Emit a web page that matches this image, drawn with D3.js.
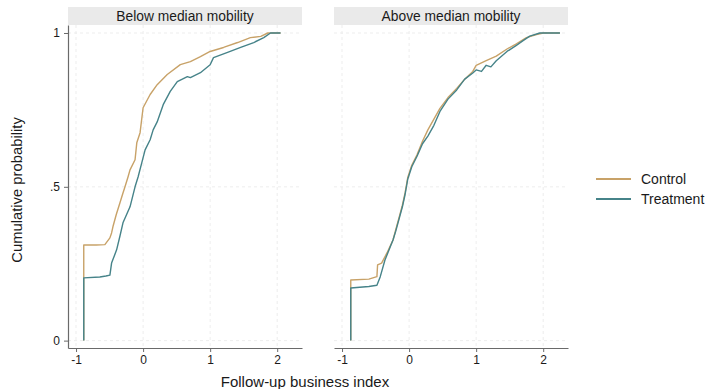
<!DOCTYPE html>
<html>
<head>
<meta charset="utf-8">
<script src="https://cdn.jsdelivr.net/npm/d3@7"></script>
<style>
  html, body { margin: 0; padding: 0; background: #fff; }
  svg { display: block; font-family: "Liberation Sans", Arial, Helvetica, sans-serif; }
</style>
</head>
<body>
<svg id="chart" width="715" height="389"></svg>
<script>
// Panels and series
const panels = ["Below median mobility", "Above median mobility"];
const seriesNames = ["Control", "Treatment"];
const seriesColors = ["#c8a268", "#468389"];

// Empirical CDF points [business index, cumulative probability]
const belowControl = [
  [-0.885, 0], [-0.885, 0.311], [-0.70, 0.311], [-0.57, 0.312], [-0.495, 0.334],
  [-0.47, 0.35], [-0.45, 0.37], [-0.40, 0.41], [-0.345, 0.448], [-0.30, 0.48],
  [-0.27, 0.50], [-0.225, 0.532], [-0.195, 0.555], [-0.12, 0.588], [-0.094, 0.643],
  [-0.045, 0.676], [0.0, 0.757], [0.105, 0.80], [0.21, 0.832], [0.36, 0.865],
  [0.555, 0.897], [0.705, 0.907], [0.855, 0.923], [1.0, 0.94], [1.2, 0.953],
  [1.41, 0.969], [1.6, 0.985], [1.755, 0.989], [1.86, 1.0], [2.05, 1.0]
];
const belowTreatment = [
  [-0.885, 0], [-0.885, 0.204], [-0.645, 0.207], [-0.555, 0.21], [-0.495, 0.213],
  [-0.47, 0.252], [-0.395, 0.295], [-0.345, 0.34], [-0.30, 0.383], [-0.195, 0.435],
  [-0.12, 0.50], [-0.075, 0.532], [-0.02, 0.578], [0.03, 0.62], [0.105, 0.653],
  [0.15, 0.685], [0.21, 0.711], [0.30, 0.767], [0.405, 0.81], [0.51, 0.842],
  [0.66, 0.858], [0.705, 0.855], [0.855, 0.871], [1.0, 0.897], [1.05, 0.92],
  [1.26, 0.937], [1.455, 0.953], [1.65, 0.969], [1.8, 0.985], [1.9, 1.0], [2.05, 1.0]
];
const aboveControl = [
  [-0.87, 0], [-0.87, 0.197], [-0.6, 0.20], [-0.48, 0.208], [-0.47, 0.246],
  [-0.41, 0.252], [-0.33, 0.285], [-0.24, 0.327], [-0.2, 0.36], [-0.15, 0.40],
  [-0.1, 0.44], [-0.06, 0.48], [-0.02, 0.53], [0.04, 0.57], [0.12, 0.605],
  [0.2, 0.648], [0.28, 0.685], [0.37, 0.72], [0.46, 0.755], [0.58, 0.79],
  [0.71, 0.82], [0.83, 0.85], [0.95, 0.875], [1.0, 0.895], [1.15, 0.91],
  [1.3, 0.925], [1.46, 0.948], [1.6, 0.965], [1.75, 0.985], [1.9, 0.995],
  [2.0, 1.0], [2.25, 1.0]
];
const aboveTreatment = [
  [-0.87, 0], [-0.87, 0.171], [-0.6, 0.176], [-0.48, 0.18], [-0.43, 0.208],
  [-0.36, 0.262], [-0.24, 0.327], [-0.2, 0.355], [-0.15, 0.395], [-0.1, 0.435],
  [-0.06, 0.475], [-0.02, 0.525], [0.04, 0.565], [0.12, 0.60], [0.2, 0.64],
  [0.28, 0.665], [0.37, 0.70], [0.46, 0.745], [0.58, 0.785], [0.71, 0.815],
  [0.83, 0.85], [0.95, 0.87], [1.0, 0.88], [1.08, 0.875], [1.15, 0.895],
  [1.22, 0.89], [1.3, 0.91], [1.46, 0.94], [1.6, 0.96], [1.7, 0.975],
  [1.8, 0.99], [1.95, 1.0], [2.25, 1.0]
];

const xTicks = [-1, 0, 1, 2];
const xTickLabels = ["-1", "0", "1", "2"];
const yTicks = [0, 0.5, 1];
const yTickLabels = ["0", ".5", "1"];

const panelData = [
  [belowControl, belowTreatment],
  [aboveControl, aboveTreatment]
];

const svg = d3.select("#chart");
const axisColor = "#6a6a6a";
const textColor = "#1a1a1a";
const panelLeft = [68, 334];
const panelWidth = 234;
const plotTop = 25, plotBottom = 348;

const y = d3.scaleLinear().domain([-0.024, 1.026]).range([plotBottom, plotTop]);

panels.forEach((title, i) => {
  const x = d3.scaleLinear().domain([-1.12, 2.37]).range([panelLeft[i], panelLeft[i] + panelWidth]);
  const g = svg.append("g");

  // Strip header
  g.append("rect")
    .attr("x", panelLeft[i]).attr("y", 7)
    .attr("width", panelWidth).attr("height", plotTop - 7)
    .attr("fill", "#eaeaea");
  g.append("text")
    .attr("x", panelLeft[i] + panelWidth / 2).attr("y", 21)
    .attr("text-anchor", "middle")
    .attr("font-size", 13.8).attr("fill", textColor)
    .text(title);

  // Grid
  g.append("g").selectAll("line").data(xTicks).join("line")
    .attr("x1", d => x(d)).attr("x2", d => x(d))
    .attr("y1", plotTop).attr("y2", plotBottom)
    .attr("stroke", "#e9e9e9").attr("stroke-width", 0.8)
    .attr("stroke-dasharray", "3,3");
  g.append("g").selectAll("line").data(yTicks).join("line")
    .attr("x1", panelLeft[i]).attr("x2", panelLeft[i] + panelWidth)
    .attr("y1", d => y(d)).attr("y2", d => y(d))
    .attr("stroke", "#e9e9e9").attr("stroke-width", 0.8)
    .attr("stroke-dasharray", "3,3");

  // CDF curves
  const line = d3.line().x(d => x(d[0])).y(d => y(d[1]));
  panelData[i].forEach((pts, s) => {
    g.append("path")
      .datum(pts)
      .attr("d", line)
      .attr("fill", "none")
      .attr("stroke", seriesColors[s])
      .attr("stroke-width", 1.4)
      .attr("stroke-linejoin", "round");
  });

  // X axis
  const xAxis = d3.axisBottom(x)
    .tickValues(xTicks)
    .tickFormat((d, k) => xTickLabels[k])
    .tickSizeInner(4).tickSizeOuter(0).tickPadding(3);
  const xa = g.append("g").attr("transform", `translate(0,${plotBottom})`).call(xAxis);
  xa.select(".domain").attr("stroke", axisColor).attr("stroke-width", 1.2);
  xa.selectAll(".tick line").attr("stroke", axisColor);
  xa.selectAll(".tick text").attr("font-size", 12).attr("fill", textColor)
    .attr("font-family", "Liberation Sans, Arial, sans-serif");

  // Y axis on the first panel only
  if (i === 0) {
    const yAxis = d3.axisLeft(y)
      .tickValues(yTicks)
      .tickFormat((d, k) => yTickLabels[k])
      .tickSizeInner(4).tickSizeOuter(0).tickPadding(4);
    const ya = g.append("g").attr("transform", `translate(${panelLeft[i]},0)`).call(yAxis);
    ya.select(".domain").attr("stroke", axisColor).attr("stroke-width", 1.2);
    ya.selectAll(".tick line").attr("stroke", axisColor);
    ya.selectAll(".tick text").attr("font-size", 12).attr("fill", textColor)
      .attr("font-family", "Liberation Sans, Arial, sans-serif");
  }
});

// Axis titles
svg.append("text")
  .attr("x", 305).attr("y", 387)
  .attr("text-anchor", "middle")
  .attr("font-size", 15).attr("fill", textColor)
  .text("Follow-up business index");
svg.append("text")
  .attr("transform", "translate(22,190) rotate(-90)")
  .attr("text-anchor", "middle")
  .attr("font-size", 14.8).attr("fill", textColor)
  .text("Cumulative probability");

// Legend
const legend = svg.append("g");
seriesNames.forEach((name, s) => {
  const ly = 179 + s * 20;
  legend.append("line")
    .attr("x1", 596).attr("x2", 631)
    .attr("y1", ly).attr("y2", ly)
    .attr("stroke", seriesColors[s]).attr("stroke-width", 1.8);
  legend.append("text")
    .attr("x", 641).attr("y", ly + 5)
    .attr("font-size", 14).attr("fill", textColor)
    .text(name);
});
</script>
</body>
</html>
